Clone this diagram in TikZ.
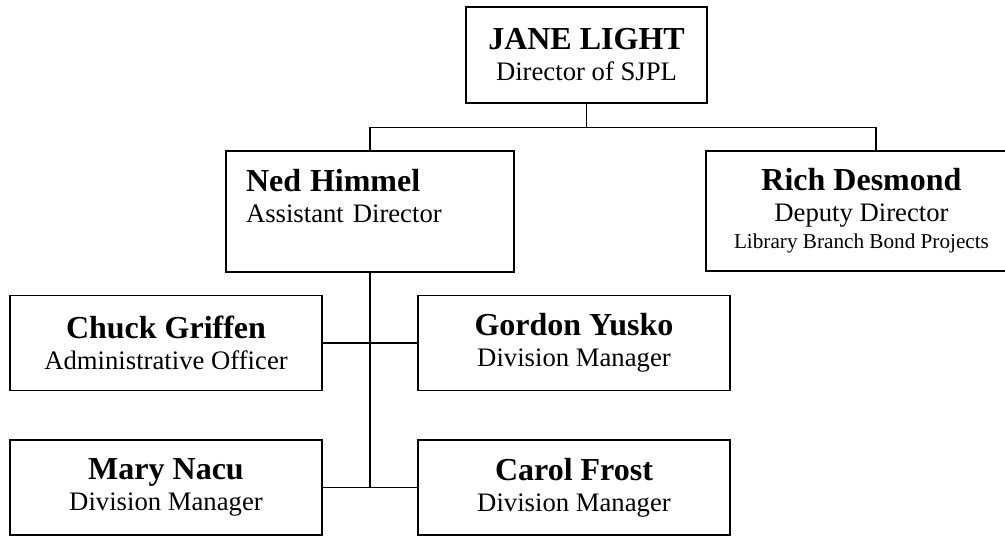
\documentclass[tikz,border=0pt]{standalone}
\usepackage{fontspec}
\setmainfont{Liberation Serif}
\newcommand{\pname}[1]{{\fontsize{32}{31}\selectfont\bfseries #1}}
\newcommand{\smallline}[1]{{\fontsize{21.2}{22}\selectfont #1}}
\tikzset{
  box/.style={draw, rectangle, line width=1.8pt, inner sep=0pt, align=center,
    font=\fontsize{26.7}{31}\selectfont},
  small box/.style={box, minimum width=312pt, minimum height=95pt},
  link/.style={line width=1.8pt}
}
\begin{document}
\begin{tikzpicture}[x=1pt,y=-1pt]
\useasboundingbox (0,0) rectangle (1005,536);
% top
\node[box, minimum width=241pt, minimum height=96pt] (jane) at (586.5,55) {\pname{JANE LIGHT}\\Director of SJPL};
% second row
\node[box, align=left, text width=248pt, inner xsep=20pt, minimum height=121pt] (ned) at (370,211.5) {\pname{Ned Himmel}\\Assistant Director\\ \mbox{}};
\node[box, minimum width=340pt, minimum height=120pt] (rich) at (876,211) {\hspace*{-29pt}\pname{Rich Desmond}\\\hspace*{-29pt}Deputy Director\\[-4pt]\hspace*{-29pt}\smallline{Library Branch Bond Projects}};
% staff under Ned
\node[small box] (chuck) at (166,343) {\pname{Chuck Griffen}\\Administrative Officer};
\node[small box] (gordon) at (574,343) {\pname{Gordon Yusko}\\Division Manager};
\node[small box] (mary) at (166,487.5) {\pname{Mary Nacu}\\Division Manager};
\node[small box] (carol) at (574,487.5) {\pname{Carol Frost}\\Division Manager};
% lines
\coordinate (bar) at (586.5,127.5);
\draw[link] (jane.south) -- (bar);
\draw[link] (ned.north) |- (bar) -| (rich.north);
\draw[link] (ned.south) -- (ned.south |- mary.east);
\draw[link] (chuck.east) -- (gordon.west);
\draw[link] (mary.east) -- (carol.west);
\end{tikzpicture}
\end{document}
